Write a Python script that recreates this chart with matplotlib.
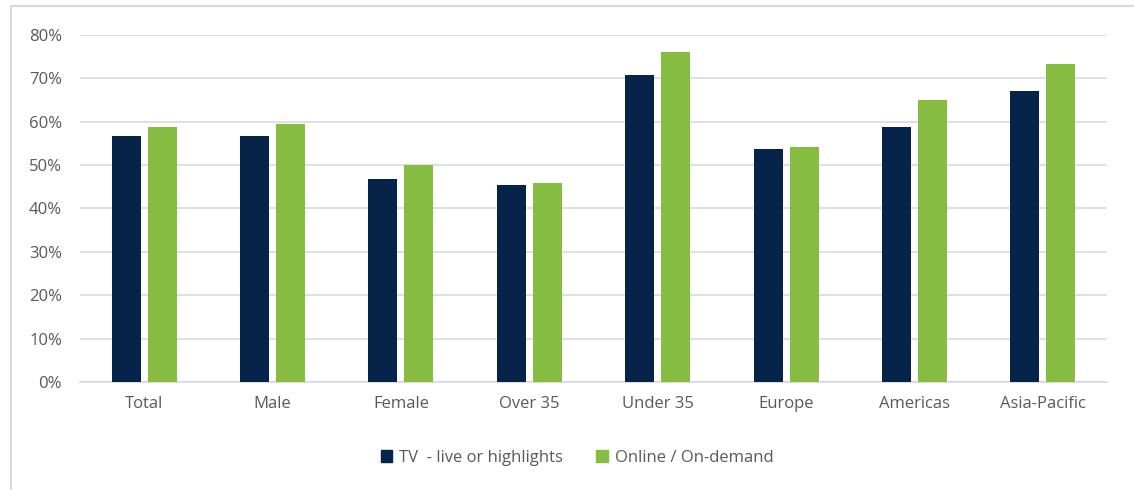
import matplotlib
matplotlib.use("Agg")
import matplotlib.pyplot as plt
import numpy as np
from matplotlib.lines import Line2D
from matplotlib.patches import Patch

categories = ["Total", "Male", "Female", "Over 35", "Under 35", "Europe", "Americas", "Asia-Pacific"]
tv_values = [56.8, 56.8, 46.9, 45.4, 70.8, 53.7, 58.8, 67.2]
online_values = [58.8, 59.4, 50.0, 45.9, 76.0, 54.2, 65.1, 73.4]
series_names = ["TV  - live or highlights", "Online / On-demand"]
yticks = [0, 10, 20, 30, 40, 50, 60, 70, 80]

plt.rcParams['font.family'] = ['Open Sans', 'DejaVu Sans']
text_color = "#595959"
grid_color = "#d9d9d9"
c_tv = "#06234a"
c_on = "#86bd41"

fig = plt.figure(figsize=(11.34, 4.9), dpi=100)
ax = fig.add_axes([80/1134, 1-382/490, (1107-80)/1134, (382-35)/490])

x = np.arange(len(categories))
w = 0.226
off = 0.14
ax.bar(x - off, tv_values, width=w, color=c_tv, zorder=3, label=series_names[0])
ax.bar(x + off, online_values, width=w, color=c_on, zorder=3, label=series_names[1])

ax.set_xlim(-0.5, len(categories) - 0.5)
ax.set_ylim(0, 80)
ax.set_yticks(yticks)
ax.set_yticklabels([f"{v}%" for v in yticks], fontsize=12, color=text_color)
ax.set_xticks(x)
ax.set_xticklabels(categories, fontsize=12, color=text_color)
ax.tick_params(axis='both', length=0)
ax.tick_params(axis='y', pad=13)
ax.tick_params(axis='x', pad=10)
ax.yaxis.grid(True, color=grid_color, linewidth=1.2, zorder=0)
for s in ["top", "right", "left"]:
    ax.spines[s].set_visible(False)
ax.spines["bottom"].set_color(grid_color)
ax.spines["bottom"].set_linewidth(1.2)

handles = [Patch(color=c_tv), Patch(color=c_on)]
fig.legend(handles, series_names, loc="center", bbox_to_anchor=(577/1134, 1-458/490),
           ncol=2, frameon=False, fontsize=12, labelcolor=text_color,
           handlelength=0.7, handleheight=0.7, handletextpad=0.4, columnspacing=2.0)

# chart area border (top and left)
fig.add_artist(Line2D([10.5/1134, 10.5/1134], [0, 1-6/490], color=grid_color, linewidth=1.5, transform=fig.transFigure))
fig.add_artist(Line2D([10.5/1134, 1], [1-6/490, 1-6/490], color=grid_color, linewidth=1.5, transform=fig.transFigure))

fig.savefig("out.png", dpi=100, facecolor="white")
